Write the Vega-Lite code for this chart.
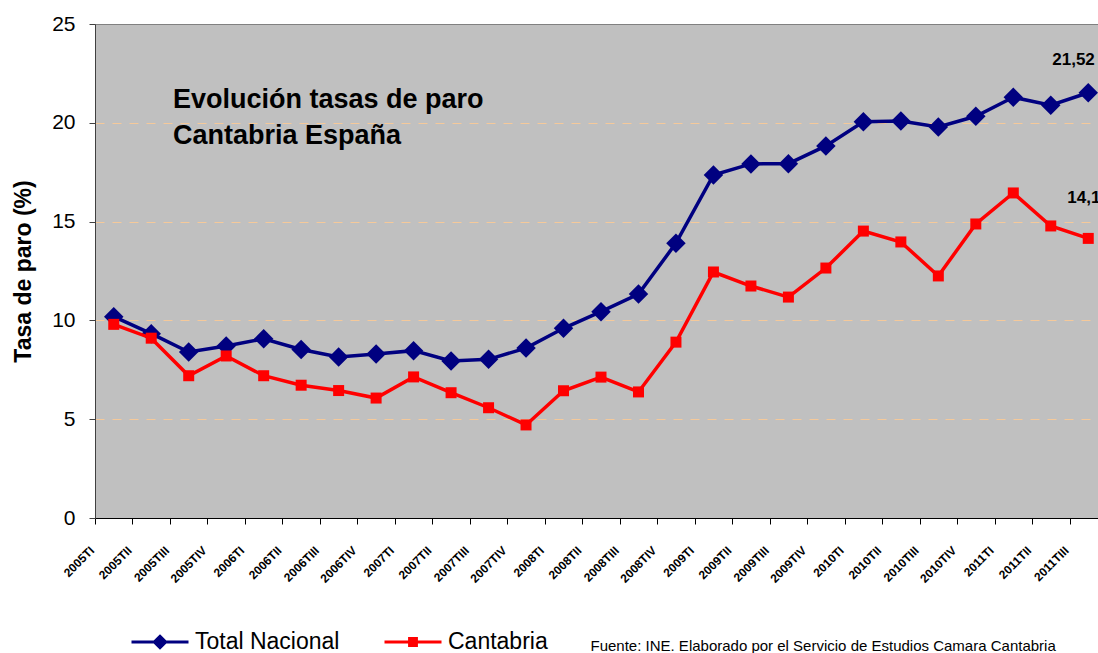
{
  "$schema": "https://vega.github.io/schema/vega-lite/v6.json",
  "width": 1003,
  "height": 494,
  "autosize": {"type": "none"},
  "padding": {"left": 95, "top": 24, "right": 0, "bottom": 135},
  "background": "white",
  "title": {
    "text": ["Evolución tasas de paro", "Cantabria España"],
    "anchor": "start",
    "frame": "group",
    "orient": "top",
    "offset": 0,
    "dx": 78,
    "dy": 158,
    "baseline": "alphabetic",
    "font": "Liberation Sans",
    "fontSize": 27,
    "fontWeight": "bold",
    "color": "black",
    "lineHeight": 36
  },
  "config": {
    "font": "Liberation Sans",
    "view": {"fill": "#C0C0C0", "stroke": "#808080", "strokeWidth": 1},
    "locale": {"number": {"decimal": ",", "thousands": ".", "grouping": [3], "currency": ["", " €"]}}
  },
  "data": {
    "values": [
      {"trimestre": "2005TI", "serie": "Total Nacional", "tasa": 10.19},
      {"trimestre": "2005TII", "serie": "Total Nacional", "tasa": 9.33},
      {"trimestre": "2005TIII", "serie": "Total Nacional", "tasa": 8.40},
      {"trimestre": "2005TIV", "serie": "Total Nacional", "tasa": 8.70},
      {"trimestre": "2006TI", "serie": "Total Nacional", "tasa": 9.07},
      {"trimestre": "2006TII", "serie": "Total Nacional", "tasa": 8.53},
      {"trimestre": "2006TIII", "serie": "Total Nacional", "tasa": 8.15},
      {"trimestre": "2006TIV", "serie": "Total Nacional", "tasa": 8.30},
      {"trimestre": "2007TI", "serie": "Total Nacional", "tasa": 8.47},
      {"trimestre": "2007TII", "serie": "Total Nacional", "tasa": 7.95},
      {"trimestre": "2007TIII", "serie": "Total Nacional", "tasa": 8.03},
      {"trimestre": "2007TIV", "serie": "Total Nacional", "tasa": 8.60},
      {"trimestre": "2008TI", "serie": "Total Nacional", "tasa": 9.60},
      {"trimestre": "2008TII", "serie": "Total Nacional", "tasa": 10.44},
      {"trimestre": "2008TIII", "serie": "Total Nacional", "tasa": 11.33},
      {"trimestre": "2008TIV", "serie": "Total Nacional", "tasa": 13.91},
      {"trimestre": "2009TI", "serie": "Total Nacional", "tasa": 17.36},
      {"trimestre": "2009TII", "serie": "Total Nacional", "tasa": 17.92},
      {"trimestre": "2009TIII", "serie": "Total Nacional", "tasa": 17.93},
      {"trimestre": "2009TIV", "serie": "Total Nacional", "tasa": 18.83},
      {"trimestre": "2010TI", "serie": "Total Nacional", "tasa": 20.05},
      {"trimestre": "2010TII", "serie": "Total Nacional", "tasa": 20.09},
      {"trimestre": "2010TIII", "serie": "Total Nacional", "tasa": 19.79},
      {"trimestre": "2010TIV", "serie": "Total Nacional", "tasa": 20.33},
      {"trimestre": "2011TI", "serie": "Total Nacional", "tasa": 21.29},
      {"trimestre": "2011TII", "serie": "Total Nacional", "tasa": 20.89},
      {"trimestre": "2011TIII", "serie": "Total Nacional", "tasa": 21.52},
      {"trimestre": "2005TI", "serie": "Cantabria", "tasa": 9.80},
      {"trimestre": "2005TII", "serie": "Cantabria", "tasa": 9.10},
      {"trimestre": "2005TIII", "serie": "Cantabria", "tasa": 7.20},
      {"trimestre": "2005TIV", "serie": "Cantabria", "tasa": 8.20},
      {"trimestre": "2006TI", "serie": "Cantabria", "tasa": 7.20},
      {"trimestre": "2006TII", "serie": "Cantabria", "tasa": 6.72},
      {"trimestre": "2006TIII", "serie": "Cantabria", "tasa": 6.45},
      {"trimestre": "2006TIV", "serie": "Cantabria", "tasa": 6.07},
      {"trimestre": "2007TI", "serie": "Cantabria", "tasa": 7.14},
      {"trimestre": "2007TII", "serie": "Cantabria", "tasa": 6.34},
      {"trimestre": "2007TIII", "serie": "Cantabria", "tasa": 5.58},
      {"trimestre": "2007TIV", "serie": "Cantabria", "tasa": 4.71},
      {"trimestre": "2008TI", "serie": "Cantabria", "tasa": 6.44},
      {"trimestre": "2008TII", "serie": "Cantabria", "tasa": 7.13},
      {"trimestre": "2008TIII", "serie": "Cantabria", "tasa": 6.38},
      {"trimestre": "2008TIV", "serie": "Cantabria", "tasa": 8.90},
      {"trimestre": "2009TI", "serie": "Cantabria", "tasa": 12.45},
      {"trimestre": "2009TII", "serie": "Cantabria", "tasa": 11.74},
      {"trimestre": "2009TIII", "serie": "Cantabria", "tasa": 11.18},
      {"trimestre": "2009TIV", "serie": "Cantabria", "tasa": 12.65},
      {"trimestre": "2010TI", "serie": "Cantabria", "tasa": 14.52},
      {"trimestre": "2010TII", "serie": "Cantabria", "tasa": 13.97},
      {"trimestre": "2010TIII", "serie": "Cantabria", "tasa": 12.25},
      {"trimestre": "2010TIV", "serie": "Cantabria", "tasa": 14.88},
      {"trimestre": "2011TI", "serie": "Cantabria", "tasa": 16.45},
      {"trimestre": "2011TII", "serie": "Cantabria", "tasa": 14.78},
      {"trimestre": "2011TIII", "serie": "Cantabria", "tasa": 14.15}
    ]
  },
  "encoding": {
    "x": {
      "field": "trimestre",
      "type": "nominal",
      "sort": null,
      "bandPosition": 0.5,
      "scale": {"type": "band", "paddingInner": 0, "paddingOuter": 0, "range": [0, 1012]},
      "axis": {
        "title": "Fuente: INE. Elaborado por el Servicio de Estudios Camara Cantabria",
        "titleFont": "Liberation Sans",
        "titleFontSize": 15,
        "titleFontWeight": "normal",
        "titleColor": "black",
        "titleX": 495,
        "titleY": 132,
        "titleAlign": "left",
        "titleBaseline": "alphabetic",
        "labelAngle": -45,
        "labelAlign": "right",
        "labelBaseline": "middle",
        "labelFont": "Liberation Sans",
        "labelFontSize": 12,
        "labelFontWeight": "bold",
        "labelColor": "black",
        "labelOffset": -22,
        "labelPadding": 24,
        "labelOverlap": false,
        "labelBound": false,
        "tickBand": "extent",
        "tickSize": 6,
        "tickColor": "black",
        "domainColor": "black",
        "grid": false
      }
    },
    "y": {
      "field": "tasa",
      "type": "quantitative",
      "scale": {"domain": [0, 25], "nice": false},
      "axis": {
        "title": "Tasa de paro (%)",
        "titleFont": "Liberation Sans",
        "titleFontSize": 23,
        "titleFontWeight": "bold",
        "titleColor": "black",
        "titleX": -60,
        "titleY": 247,
        "values": [0, 5, 10, 15, 20, 25],
        "labelFont": "Liberation Sans",
        "labelFontSize": 21,
        "labelColor": "black",
        "labelPadding": 14,
        "tickSize": 6,
        "tickColor": "#404040",
        "domainColor": "#404040",
        "grid": true,
        "gridColor": {"condition": {"test": "datum.value == 0 || datum.value == 25", "value": "transparent"}, "value": "#F5C99A"},
        "gridDash": [9, 8],
        "gridWidth": 1
      }
    },
    "color": {
      "field": "serie",
      "type": "nominal",
      "sort": ["Total Nacional", "Cantabria"],
      "scale": {"domain": ["Total Nacional", "Cantabria"], "range": ["#000080", "#FF0000"]},
      "legend": {
        "title": null,
        "orient": "none",
        "direction": "horizontal",
        "legendX": 35,
        "legendY": 588,
        "padding": 0,
        "symbolSize": 3249,
        "labelFont": "Liberation Sans",
        "labelFontSize": 23,
        "labelColor": "black",
        "labelOffset": 5,
        "columnPadding": 38,
        "encode": {
          "symbols": {
            "update": {
              "shape": {"signal": "datum.value === 'Total Nacional' ? 'M-1,0L1,0M0,-0.2L0.2,0L0,0.2L-0.2,0Z' : 'M-1,0L1,0M-0.12,-0.12L0.12,-0.12L0.12,0.12L-0.12,0.12Z'"},
              "fill": {"signal": "scale('color', datum.value)"},
              "stroke": {"signal": "scale('color', datum.value)"},
              "strokeWidth": {"value": 3},
              "size": {"value": 3249},
              "opacity": {"value": 1},
              "fillOpacity": {"value": 1},
              "strokeOpacity": {"value": 1}
            }
          }
        }
      }
    }
  },
  "layer": [
    {
      "transform": [{"filter": "datum.serie === 'Total Nacional'"}],
      "mark": {"type": "line", "strokeWidth": 3.5, "point": {"shape": "diamond", "size": 380, "filled": true, "opacity": 1}}
    },
    {
      "transform": [{"filter": "datum.serie === 'Cantabria'"}],
      "mark": {"type": "line", "strokeWidth": 3.5, "point": {"shape": "square", "size": 121, "filled": true, "opacity": 1}}
    },
    {
      "transform": [{"filter": "datum.serie === 'Total Nacional' && datum.trimestre === '2011TIII'"}],
      "mark": {"type": "text", "align": "left", "baseline": "alphabetic", "dx": -36, "dy": -28, "font": "Liberation Sans", "fontSize": 17, "fontWeight": "bold"},
      "encoding": {"text": {"field": "tasa", "type": "quantitative", "format": ".2f"}, "color": {"value": "black"}}
    },
    {
      "transform": [{"filter": "datum.serie === 'Cantabria' && datum.trimestre === '2011TIII'"}],
      "mark": {"type": "text", "align": "left", "baseline": "alphabetic", "dx": -21, "dy": -35, "font": "Liberation Sans", "fontSize": 17, "fontWeight": "bold"},
      "encoding": {"text": {"field": "tasa", "type": "quantitative", "format": ".2f"}, "color": {"value": "black"}}
    }
  ]
}
